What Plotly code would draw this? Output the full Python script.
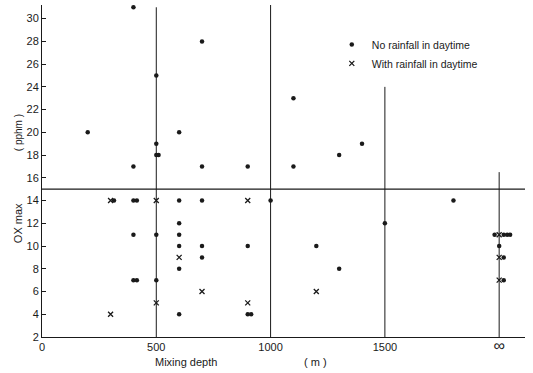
import plotly.graph_objects as go

# ---- data ----
no_rain_x = [200, 400, 400, 500, 500, 500, 510, 600, 700, 700, 900, 1100, 1100, 1300, 1400,
             315, 400, 415, 600, 700, 1000, 1800,
             400, 500, 600, 600, 600, 700, 900, 1200, 1500, 700, 600, 1300,
             400, 415, 500, 600, 900, 915,
             1980, 2020, 2035, 2048, 2000, 2020, 2020]
no_rain_y = [20, 31, 17, 25, 19, 18, 18, 20, 28, 17, 17, 23, 17, 18, 19,
             14, 14, 14, 14, 14, 14, 14,
             11, 11, 12, 11, 10, 10, 10, 10, 12, 9, 8, 8,
             7, 7, 7, 4, 4, 4,
             11, 11, 11, 11, 10, 9, 7]
rain_x = [300, 300, 500, 900, 600, 700, 1200, 900, 500, 2000, 2000, 2000]
rain_y = [4, 14, 14, 14, 9, 6, 6, 5, 5, 11, 9, 7]

x_tick_vals = [0, 500, 1000, 1500, 2000]
x_tick_text = ["0", "500", "1000", "1500", "<span style='font-size:16px'>∞</span>"]
y_tick_vals = list(range(2, 32, 2))

# reference (divider) lines: x position and top value
v_lines_x = [500, 1000, 1500, 2000]
v_lines_top = [31.0, 31.2, 24.0, 16.5]
h_line_y = 15

x_range = [0, 2113]
y_range = [2, 31.2]

FONT = "Liberation Sans, Arial, sans-serif"
INK = "#1a1a1a"

fig = go.Figure()
fig.add_trace(go.Scatter(
    x=no_rain_x, y=no_rain_y, mode="markers", name="No rainfall in daytime",
    marker=dict(symbol="circle", size=4.5, color=INK),
))
fig.add_trace(go.Scatter(
    x=rain_x, y=rain_y, mode="markers", name="With rainfall in daytime",
    marker=dict(symbol="x-thin", size=5, color=INK, line=dict(width=1.3, color=INK)),
))

for xv, top in zip(v_lines_x, v_lines_top):
    fig.add_shape(type="line", xref="x", yref="y", x0=xv, x1=xv, y0=y_range[0], y1=top,
                  line=dict(color=INK, width=1), layer="below")
fig.add_shape(type="line", xref="paper", yref="y", x0=0, x1=1, y0=h_line_y, y1=h_line_y,
              line=dict(color=INK, width=1.2), layer="below")

fig.add_annotation(text="Mixing depth", xref="x", yref="paper", x=630, y=-0.075,
                   showarrow=False, font=dict(family=FONT, size=11, color=INK), yanchor="middle")
fig.add_annotation(text="( m )", xref="x", yref="paper", x=1195, y=-0.075,
                   showarrow=False, font=dict(family=FONT, size=11, color=INK), yanchor="middle")
fig.add_annotation(text="OX max", xref="paper", yref="y", x=-0.05, y=12.0, xanchor="center",
                   textangle=-90, showarrow=False, font=dict(family=FONT, size=11, color=INK))
fig.add_annotation(text="( pphm )", xref="paper", yref="y", x=-0.05, y=20.0, xanchor="center",
                   textangle=-90, showarrow=False, font=dict(family=FONT, size=10, color=INK))

fig.update_layout(
    width=533, height=373,
    margin=dict(l=42, r=8, t=5, b=36),
    paper_bgcolor="white", plot_bgcolor="white",
    font=dict(family=FONT, size=11, color=INK),
    showlegend=True,
    legend=dict(x=0.60, y=0.925, xanchor="left", yanchor="top",
                bgcolor="rgba(0,0,0,0)", borderwidth=0,
                font=dict(family=FONT, size=10.5, color=INK),
                itemsizing="trace", tracegroupgap=0),
    xaxis=dict(range=x_range, tickvals=x_tick_vals, ticktext=x_tick_text,
               showgrid=False, zeroline=False, showline=True, linecolor=INK, linewidth=1,
               ticks="", ticklen=0, tickfont=dict(family=FONT, size=11, color=INK)),
    yaxis=dict(range=y_range, tickvals=y_tick_vals, showgrid=False, zeroline=False,
               showline=True, linecolor=INK, linewidth=1,
               ticks="inside", ticklen=4, tickcolor=INK,
               tickfont=dict(family=FONT, size=11, color=INK)),
)

fig.write_html("out.html", config={"displayModeBar": False},
               post_script="document.body.style.margin='0';document.body.style.padding='0';")
